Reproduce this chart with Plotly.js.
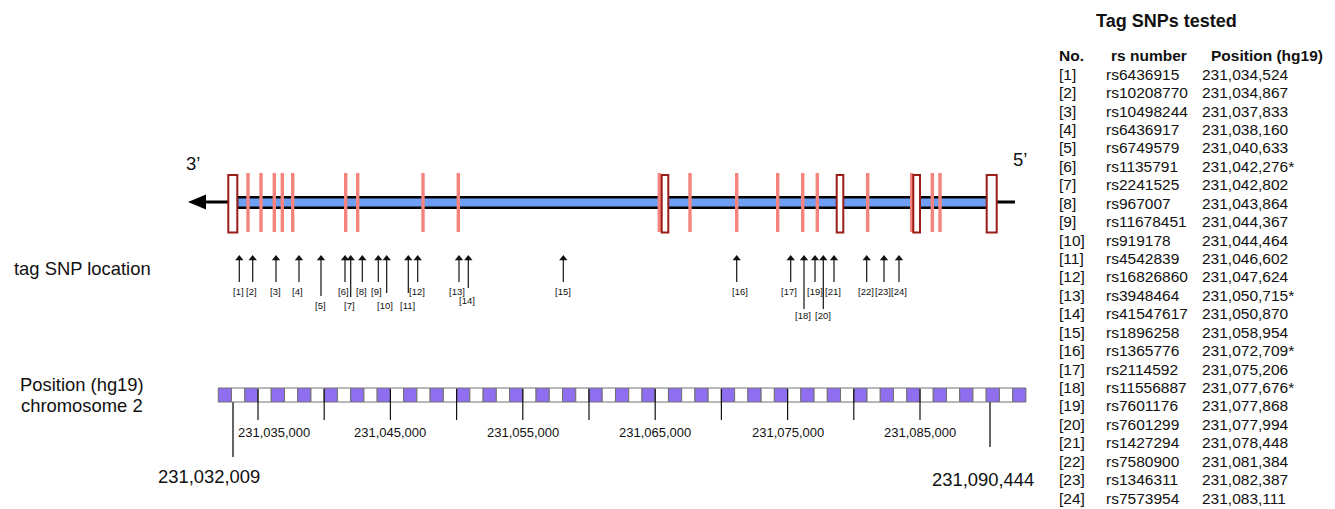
<!DOCTYPE html>
<html><head><meta charset="utf-8">
<script src="https://cdn.plot.ly/plotly-3.0.1.min.js"></script>
<style>html,body{margin:0;padding:0;background:#fff}</style>
</head><body><div id="chart" style="width:1335px;height:509px"></div>
<script>
// ---------- Table data ----------
const snpNumbers = ['[1]','[2]','[3]','[4]','[5]','[6]','[7]','[8]','[9]','[10]','[11]','[12]','[13]','[14]','[15]','[16]','[17]','[18]','[19]','[20]','[21]','[22]','[23]','[24]'];
const rsNumbers = ['rs6436915','rs10208770','rs10498244','rs6436917','rs6749579','rs1135791','rs2241525','rs967007','rs11678451','rs919178','rs4542839','rs16826860','rs3948464','rs41547617','rs1896258','rs1365776','rs2114592','rs11556887','rs7601176','rs7601299','rs1427294','rs7580900','rs1346311','rs7573954'];
const positionsHg19 = ['231,034,524','231,034,867','231,037,833','231,038,160','231,040,633','231,042,276*','231,042,802','231,043,864','231,044,367','231,044,464','231,046,602','231,047,624','231,050,715*','231,050,870','231,058,954','231,072,709*','231,075,206','231,077,676*','231,077,868','231,077,994','231,078,448','231,081,384','231,082,387','231,083,111'];
const tableHeaders = ['No.','rs number','Position (hg19)'];

// ---------- Schematic gene diagram (schematic units) ----------
const snpArrowX = [239.3,252.7,276,299,321,345,350.7,362.3,378.3,386.7,408.3,417.7,459,468.3,563.3,736.7,790.7,804,815,823.3,834,866.7,884,899];
const snpArrowTail = [282,282,282,282,296,282,297,282,282,293,293,282,282,288,282,282,282,309,282,309,282,282,282,282];
const snpLabelX = [238.3,251.7,275,297.7,320.3,343.3,349.3,361.3,376.7,385,407.7,417.3,456.7,467.3,562.7,740,789,802.7,815,823.3,833.3,865.7,882.7,899];
const snpLabelRow = [0,0,0,0,2,0,2,0,0,2,2,0,0,1,0,0,0,3,0,3,0,0,0,0];
const tagLineX = [248,261,274.3,282.3,292.7,345.7,357.7,423,458.3,659.3,690,736.7,777.7,802.7,817.3,867.7,911.7,932.3,940];
const exonStart = [228.3,661.7,836.7,913.3,986.7];
const exonEnd   = [237.3,668.3,843.3,920,996.7];
const geneSpan = [237,988];          // transcribed region (blue band)
const strandEnds = ['3\u2019','5\u2019'];

// ---------- Chromosome ruler (hg19, chromosome 2) ----------
const rulerStart = 231032000, rulerEnd = 231093000, rulerBlock = 1000;
const rulerTicks = [231035000,231040000,231045000,231050000,231055000,231060000,231065000,231070000,231075000,231080000,231085000];
const rulerLabelPos = [231035000,231045000,231055000,231065000,231075000,231085000];
const rulerLabels = ['231,035,000','231,045,000','231,055,000','231,065,000','231,075,000','231,085,000'];
const geneBoundLabels = ['231,032,009','231,090,444'];
const geneBoundX = [233,990];

// ---------- layout helpers ----------
const FONT = 'Liberation Sans, Arial, Helvetica, sans-serif';
const pxPerBp = 0.01324, refPx = 258, refBp = 231035000;
const bpAt = px => refBp + (px - refPx) / pxPerBp;

// ruler blocks
const blockX = [], blockColor = [];
for (let s = rulerStart, i = 0; s < rulerEnd; s += rulerBlock, i++) {
  blockX.push(s + rulerBlock / 2);
  blockColor.push(i % 2 === 0 ? '#8f6ef0' : '#ffffff');
}
const rulerBar = {
  type: 'bar', xaxis: 'x2', yaxis: 'y',
  x: blockX, y: blockX.map(() => 14), base: 388, width: rulerBlock,
  marker: {color: blockColor, line: {color: '#707070', width: 1}},
  hoverinfo: 'skip'
};
const tickX = [], tickY = [];
rulerTicks.forEach(t => { tickX.push(t, t, null); tickY.push(389, 420, null); });
const rulerTickTrace = {
  type: 'scatter', mode: 'lines', xaxis: 'x2', yaxis: 'y',
  x: tickX, y: tickY, line: {color: '#111', width: 1.2}, hoverinfo: 'skip'
};
const boundX = [], boundY = [];
geneBoundX.forEach((x, i) => { boundX.push(x, x, null); boundY.push(389, i === 0 ? 457 : 447, null); });
const boundTrace = {
  type: 'scatter', mode: 'lines', x: boundX, y: boundY,
  line: {color: '#111', width: 1.3}, hoverinfo: 'skip'
};

// SNP arrows
const tipY = 255;
const shaftX = [], shaftY = [];
snpArrowX.forEach((x, i) => { shaftX.push(x, x, null); shaftY.push(tipY + 3, snpArrowTail[i], null); });
const shaftTrace = {
  type: 'scatter', mode: 'lines', x: shaftX, y: shaftY,
  line: {color: '#111', width: 1.2}, hoverinfo: 'skip'
};
const headTrace = {
  type: 'scatter', mode: 'markers', x: snpArrowX, y: snpArrowX.map(() => tipY + 3.5),
  marker: {symbol: 'triangle-up', size: 7.2, color: '#111', line: {width: 0}}, hoverinfo: 'skip'
};

// shapes
const shapes = [];
shapes.push({type: 'line', x0: 203, x1: 229, y0: 202, y1: 202, line: {color: '#000', width: 3}});
shapes.push({type: 'path', path: 'M 188 202 L 206 194.5 L 206 209.5 Z', fillcolor: '#000', line: {width: 0}});
shapes.push({type: 'line', x0: 996, x1: 1015, y0: 202, y1: 202, line: {color: '#000', width: 3}});
shapes.push({type: 'rect', x0: geneSpan[0], x1: geneSpan[1], y0: 197.3, y1: 207.7,
  fillcolor: '#6f9ef6', line: {color: '#000', width: 2.4}});
tagLineX.forEach(x => shapes.push({type: 'line', x0: x, x1: x, y0: 173, y1: 232,
  line: {color: '#f6847e', width: 3.4}}));
exonStart.forEach((x0, i) => shapes.push({type: 'rect', x0: x0, x1: exonEnd[i], y0: 175, y1: 232.5,
  fillcolor: '#ffffff', line: {color: '#9a1d16', width: 2}}));

// annotations
const ann = [];
const A = (text, x, y, size, opts) => Object.assign({
  text: text, x: x, y: y, xref: 'x', yref: 'y', showarrow: false,
  xanchor: 'center', yanchor: 'middle', borderpad: 0, borderwidth: 0,
  font: {family: FONT, size: size, color: '#111'}
}, opts || {});

ann.push(A(strandEnds[0], 193, 163, 18.5));
ann.push(A(strandEnds[1], 1020, 159, 18.5));
ann.push(A('tag SNP location', 82, 268, 18.4));
ann.push(A('Position (hg19)', 82, 384, 18.4));
ann.push(A('chromosome 2', 82, 405, 18.4));

const rowY = [291.7, 300, 305.5, 315];
snpNumbers.forEach((t, i) => ann.push(A(t, snpLabelX[i], rowY[snpLabelRow[i]], 9.5)));

rulerLabels.forEach((t, i) => ann.push(Object.assign(A(t, rulerLabelPos[i], 432.5, 13), {xref: 'x2', xshift: i === 0 ? 15.5 : 0})));
ann.push(A(geneBoundLabels[0], 208.5, 476, 18.4));
ann.push(A(geneBoundLabels[1], 982.5, 479, 18.4));

// table
ann.push(A('<b>Tag SNPs tested</b>', 1166, 21, 18));
const headerX = [1058.5, 1110.5, 1210.5];
tableHeaders.forEach((h, i) => ann.push(A('<b>' + h + '</b>', headerX[i], 55.5, 15.5, {xanchor: 'left'})));
const colX = [1058.5, 1106, 1202];
const row0 = 74.2, rowStep = 18.43;
snpNumbers.forEach((t, i) => {
  const y = row0 + i * rowStep;
  ann.push(A(t, colX[0], y, 15.5, {xanchor: 'left'}));
  ann.push(A(rsNumbers[i], colX[1], y, 15.5, {xanchor: 'left'}));
  ann.push(A(positionsHg19[i], colX[2], y, 15.5, {xanchor: 'left'}));
});

const layout = {
  width: 1335, height: 509,
  margin: {l: 0, r: 0, t: 0, b: 0, pad: 0},
  paper_bgcolor: '#fff', plot_bgcolor: '#fff',
  showlegend: false, bargap: 0,
  xaxis: {range: [0, 1335], domain: [0, 1], visible: false, fixedrange: true},
  xaxis2: {range: [bpAt(0), bpAt(1335)], overlaying: 'x', visible: false, fixedrange: true},
  yaxis: {range: [509, 0], domain: [0, 1], visible: false, fixedrange: true},
  shapes: shapes, annotations: ann
};

Plotly.newPlot('chart', [rulerBar, rulerTickTrace, boundTrace, shaftTrace, headTrace], layout,
  {staticPlot: true, displayModeBar: false});
</script>
</body></html>
